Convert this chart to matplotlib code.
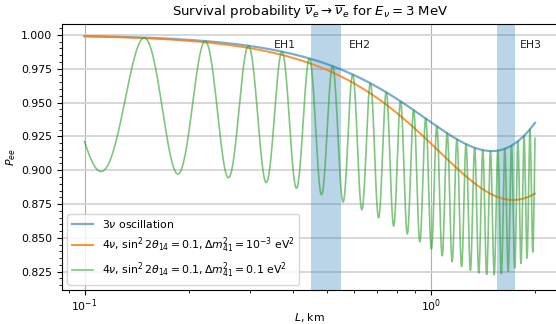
import numpy as np
import matplotlib
matplotlib.use('Agg')
import matplotlib.pyplot as plt
from matplotlib.ticker import AutoMinorLocator

# parameters (title / legend) plus standard 3nu values
E = 3.0                  # MeV
sin2_2th13 = 0.084
sin2_2th12 = 0.851
dm2_21 = 7.53e-5         # eV^2
dm2_31 = 2.50e-3         # eV^2
sin2_2th14 = 0.1
dm2_41_a = 1e-3          # eV^2
dm2_41_b = 0.1           # eV^2

L_min, L_max, n_pts = 0.1, 2.0, 1000   # km

halls = ['EH1', 'EH2', 'EH3']
hall_text_L = [0.352, 0.581, 1.81]
spans = [(0.45, 0.55), (1.55, 1.75)]

L = np.linspace(L_min, L_max, n_pts)

def delta(dm2):
    return 1.267 * dm2 * L * 1000 / E

th13 = 0.5 * np.arcsin(np.sqrt(sin2_2th13))
P3 = 1 - np.cos(th13)**4 * sin2_2th12 * np.sin(delta(dm2_21))**2 \
       - sin2_2th13 * np.sin(delta(dm2_31))**2
P4a = P3 * (1 - sin2_2th14 * np.sin(delta(dm2_41_a))**2)
P4b = P3 * (1 - sin2_2th14 * np.sin(delta(dm2_41_b))**2)

plt.rcParams['font.size'] = 7.8
fig = plt.figure(figsize=(5.56, 3.24), dpi=100)
ax = fig.add_axes([62/556, 34/324, 495.5/556, 266/324])

ax.plot(L, P3, color='C0', lw=1.6, alpha=0.6, label=r'3$\nu$ oscillation')
ax.plot(L, P4a, color='C1', lw=1.4, alpha=0.85,
        label=r'4$\nu$, $\sin^2 2\theta_{14} = 0.1, \Delta m^2_{41} = 10^{-3}$ eV$^2$')
ax.plot(L, P4b, color='C2', lw=1.2, alpha=0.6,
        label=r'4$\nu$, $\sin^2 2\theta_{14} = 0.1, \Delta m^2_{41} = 0.1$ eV$^2$')

for a, b in spans:
    ax.axvspan(a, b, color='C0', alpha=0.3, lw=0)
for name, x in zip(halls, hall_text_L):
    ax.text(x, 0.9925, name, ha='left', va='center', color='#222222')

ax.set_xscale('log')
ax.set_ylim(0.8115, 1.008)
ax.yaxis.set_minor_locator(AutoMinorLocator())
ax.tick_params(axis='x', which='both', pad=2)
ax.grid(axis='y', color='#d4d4d4', lw=1.3)
ax.grid(axis='x', color='#b0b0b0', lw=0.8)
ax.set_axisbelow(True)

ax.set_xlabel(r'$L$, km', labelpad=-2.5)
ax.set_ylabel(r'$P_{ee}$', labelpad=2)
ax.set_title(r'Survival probability $\overline{\nu}_e \to \overline{\nu}_e$ for $E_\nu = 3$ MeV',
             fontsize=9.5)
ax.legend(loc='lower left')

fig.savefig('out.png', dpi=100)
